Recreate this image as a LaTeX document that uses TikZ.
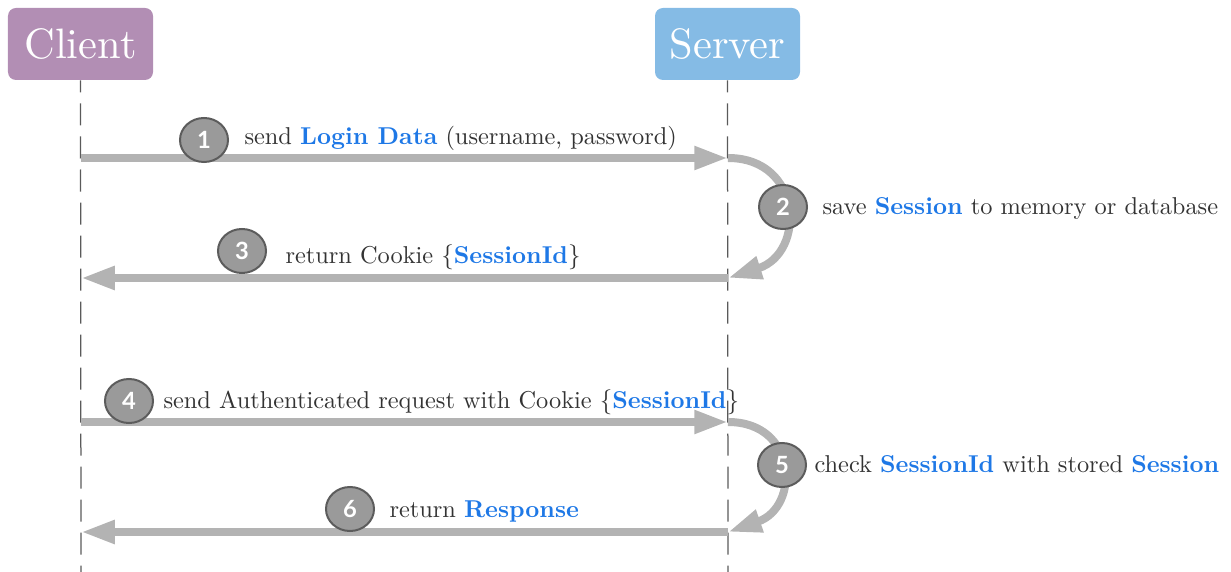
\documentclass[tikz,border=0pt]{standalone}
\usepackage{fontspec}
\newfontfamily\numfont{Lato}
\newfontfamily\titlefont{lmroman10-regular.otf}
\usetikzlibrary{arrows.meta,shapes.geometric}
\definecolor{clientc}{HTML}{B28EB4}
\definecolor{serverc}{HTML}{85BBE5}
\definecolor{msgc}{HTML}{B3B3B3}
\definecolor{stepfill}{HTML}{9A9A9A}
\definecolor{stepline}{HTML}{5C5C5C}
\definecolor{txtc}{HTML}{333333}
\definecolor{keyc}{HTML}{1E78E6}
\definecolor{lifec}{HTML}{5A5A5A}
\newcommand\key[1]{\textcolor{keyc}{\bfseries #1}}
\begin{document}
\begin{tikzpicture}[x=0.4pt,y=0.4pt,
  actor/.style={rounded corners=3.2pt, minimum width=58pt, minimum height=28.8pt,
    text=white, font=\titlefont\fontsize{17}{20}\selectfont, inner sep=0},
  lifeline/.style={draw=lifec, line width=0.5pt, dash pattern=on 8.8pt off 4.4pt, dash phase=4pt},
  msg/.style={draw=msgc, line width=3.2pt, -{Triangle[length=13.5pt,width=8.8pt]}},
  stepnum/.style={ellipse, fill=stepfill, draw=stepline, line width=0.8pt,
    minimum width=19.2pt, minimum height=17.6pt, inner sep=0, text=white,
    font=\numfont\bfseries\fontsize{9.5}{10}\selectfont},
  lbl/.style={anchor=base west, inner sep=0, text=txtc, font=\fontsize{9.75}{12}\selectfont},
]
\useasboundingbox (0,0) rectangle (1231,-572);

% actors
\node[actor, fill=clientc] (client) at (80.5,-44) {Client};
\node[actor, fill=serverc] (server) at (727.5,-44) {Server};

% lifelines
\coordinate (clientend) at (81,-572);
\coordinate (serverend) at (728,-572);
\draw[lifeline] (client.south) -- (clientend);
\draw[lifeline] (server.south) -- (serverend);

% message anchors on the lifelines
\coordinate (c1) at (81,-158);  \coordinate (s1) at (728,-158);
\coordinate (s3) at (728,-278); \coordinate (c3) at (81,-278);
\coordinate (c4) at (81,-422);  \coordinate (s4) at (728,-422);
\coordinate (s6) at (728,-532); \coordinate (c6) at (81,-532);

% messages
\draw[msg] (c1) -- (s1);
\draw[msg] (s1) .. controls +(75,0) and +(78,25) .. (s3);
\draw[msg] (s3) -- (c3);
\draw[msg] (c4) -- (s4);
\draw[msg] (s4) .. controls +(70,0) and +(72,25) .. (s6);
\draw[msg] (s6) -- (c6);

% step numbers
\node[stepnum] (n1) at (204,-140) {1};
\node[stepnum] (n2) at (783,-207) {2};
\node[stepnum] (n3) at (242,-251) {3};
\node[stepnum] (n4) at (129,-401) {4};
\node[stepnum] (n5) at (782,-465) {5};
\node[stepnum] (n6) at (350,-509) {6};

% labels
\node[lbl] (t1) at (244,-145) {send \key{Login Data} (username, password)};
\node[lbl] (t2) at (822,-215) {save \key{Session} to memory or database};
\node[lbl] (t3) at (285,-263) {return Cookie $\{$\key{SessionId}$\}$};
\node[lbl] (t4) at (163,-408) {send Authenticated request with Cookie $\{$\key{SessionId}$\}$};
\node[lbl] (t5) at (814,-472) {check \key{SessionId} with stored \key{Session}};
\node[lbl] (t6) at (389,-517) {return \key{Response}};
\end{tikzpicture}
\end{document}
